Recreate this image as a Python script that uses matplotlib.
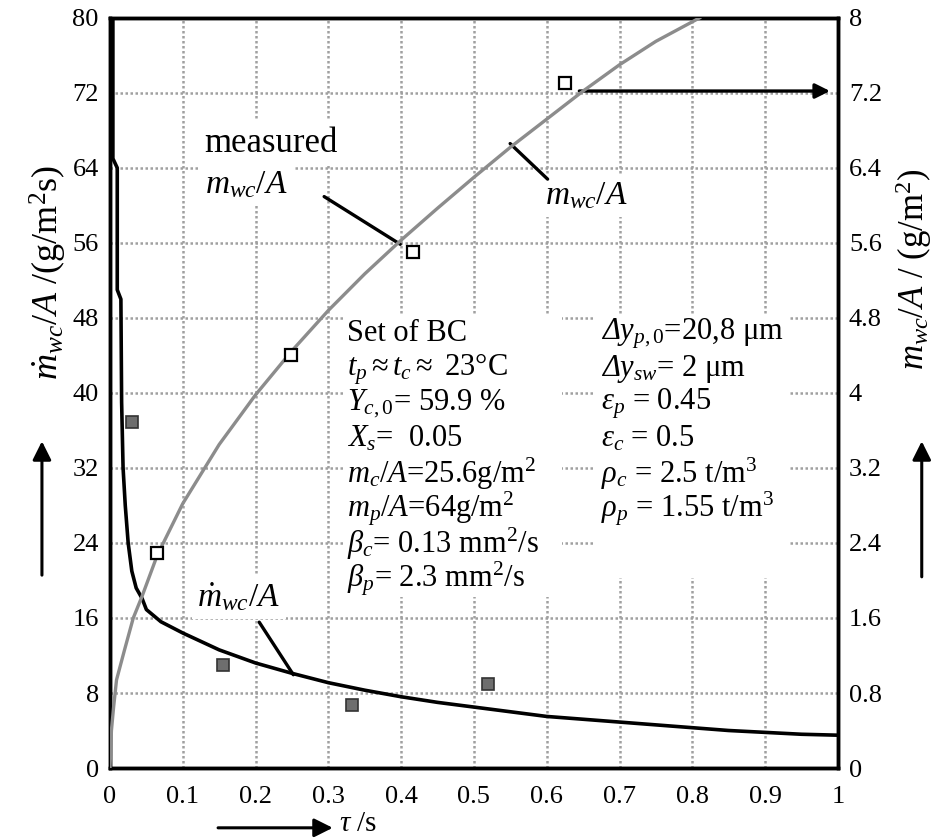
import numpy as np
import matplotlib
matplotlib.use("Agg")
import matplotlib.pyplot as plt
from matplotlib.patches import Rectangle

# Step 1: data
# black line: drying rate mdot_wc/A in g/(m^2 s), left axis
tau_rate = [0.004, 0.004, 0.010, 0.010, 0.015, 0.016, 0.018, 0.021, 0.025, 0.030,
            0.036, 0.044, 0.05, 0.07, 0.1, 0.15, 0.2, 0.25, 0.3, 0.35, 0.4, 0.45,
            0.5, 0.55, 0.6, 0.65, 0.7, 0.75, 0.8, 0.85, 0.9, 0.95, 1.0]
rate = [80, 65, 64, 51, 50, 39, 32, 28, 24, 21,
        19.2, 18.1, 16.9, 15.6, 14.4, 12.6, 11.2, 10.1, 9.1, 8.3, 7.6, 7.0,
        6.5, 6.0, 5.5, 5.2, 4.9, 4.6, 4.3, 4.0, 3.8, 3.6, 3.5]

# gray line: evaporated water m_wc/A in g/m^2, right axis
tau_mass = [0, 0.002, 0.005, 0.009, 0.02, 0.032, 0.044, 0.065, 0.1, 0.15, 0.2,
            0.25, 0.3, 0.35, 0.4, 0.45, 0.5, 0.55, 0.6, 0.65, 0.7, 0.75, 0.81]
mass = [0, 0.40, 0.65, 0.94, 1.26, 1.60, 1.83, 2.27, 2.82, 3.45, 3.98,
        4.45, 4.88, 5.27, 5.63, 5.97, 6.30, 6.62, 6.92, 7.22, 7.50, 7.75, 8.0]

# measured points
tau_meas_mass = [0.065, 0.249, 0.416, 0.625]
meas_mass = [2.29, 4.40, 5.50, 7.31]
tau_meas_rate = [0.030, 0.155, 0.332, 0.52]
meas_rate = [36.9, 11.0, 6.7, 9.0]

x_ticks = [0, 0.1, 0.2, 0.3, 0.4, 0.5, 0.6, 0.7, 0.8, 0.9, 1.0]
x_labels = ["0", "0.1", "0.2", "0.3", "0.4", "0.5", "0.6", "0.7", "0.8", "0.9", "1"]
left_ticks = [0, 8, 16, 24, 32, 40, 48, 56, 64, 72, 80]
right_ticks = [0, 0.8, 1.6, 2.4, 3.2, 4, 4.8, 5.6, 6.4, 7.2, 8]
right_labels = ["0", "0.8", "1.6", "2.4", "3.2", "4", "4.8", "5.6", "6.4", "7.2", "8"]

# "5" and "9" are split in two groups, mathtext kerning overlaps them otherwise
left_block = ["Set of BC",
              r"$t_p \approx t_c \approx$ 23°C",
              r"$Y_{c,0}$= $\mathrm{5}\mathrm{9.9}$ %",
              r"$X_s$=  0.05",
              r"$m_c/A$=25.6g/m$^2$",
              r"$m_p/A$=64g/m$^2$",
              r"$\beta_c$= 0.13 mm$^2$/s",
              r"$\beta_p$= 2.3 mm$^2$/s"]
# \mathsf is mapped to the italic face to get a slanted Delta
right_block = [r"$\mathsf{\Delta}y_{p,0}$=20,8 μm",
               r"$\mathsf{\Delta}y_{sw}$= 2 μm",
               r"$\varepsilon_p$ = 0.45",
               r"$\varepsilon_c$ = 0.5",
               r"$\rho_c$ = 2.5 t/m$^3$",
               r"$\rho_p$ = 1.55 t/m$^3$"]

# Step 2: fonts (Times-like)
plt.rcParams['font.family'] = ['Liberation Serif', 'DejaVu Serif']
plt.rcParams['mathtext.fontset'] = 'custom'
plt.rcParams['mathtext.rm'] = 'Liberation Serif'
plt.rcParams['mathtext.it'] = 'Liberation Serif:italic'
plt.rcParams['mathtext.sf'] = 'Liberation Serif:italic'
plt.rcParams['mathtext.bf'] = 'Liberation Serif:bold'

# Step 3: axes
fig = plt.figure(figsize=(9.32, 8.4), dpi=100)
ax = fig.add_axes([0.118, 0.0857, 0.781, 0.893])
ax2 = ax.twinx()

ax.set_xlim(0, 1)
ax.set_ylim(0, 80)
ax2.set_ylim(0, 8)
ax.set_xticks(x_ticks)
ax.set_xticklabels(x_labels)
ax.set_yticks(left_ticks)
ax2.set_yticks(right_ticks)
ax2.set_yticklabels(right_labels)

ax.tick_params(axis='x', length=0, labelsize=19, pad=13)
ax.tick_params(axis='y', length=0, labelsize=19, pad=8)
ax2.tick_params(axis='y', length=0, labelsize=19, pad=8)

for a in (ax, ax2):
    for s in a.spines.values():
        s.set_linewidth(2.5)
        s.set_color('black')

ax.set_axisbelow(True)
ax.grid(True, color='#a0a0a0', linestyle=(0, (1, 1)), linewidth=1.8)

# white boxes behind the parameter blocks
ax.add_patch(Rectangle((0.32, 0.228), 0.301, 0.375, transform=ax.transAxes,
                       facecolor='white', edgecolor='none', zorder=1))
ax.add_patch(Rectangle((0.663, 0.253), 0.268, 0.35, transform=ax.transAxes,
                       facecolor='white', edgecolor='none', zorder=1))

# Step 4: curves and measured points
ax.plot(tau_rate, rate, color='black', linewidth=2.6, zorder=4)
ax.plot(tau_meas_rate, meas_rate, linestyle='none', marker='s', markersize=8,
        markerfacecolor='#6e6e6e', markeredgecolor='#333333', markeredgewidth=1.2, zorder=5)
ax2.plot(tau_mass, mass, color='#8c8c8c', linewidth=2.4, zorder=4)
ax2.plot(tau_meas_mass, meas_mass, linestyle='none', marker='s', markersize=8,
         markerfacecolor='white', markeredgecolor='black', markeredgewidth=1.6, zorder=5)

# Step 5: annotations
box = dict(facecolor='white', edgecolor='none', pad=4)
ax.text(0.130, 66.6, "measured", fontsize=25, ha='left', va='center', bbox=box, zorder=3)
ax.text(0.130, 62.2, r"$m_{wc}/A$", fontsize=24, ha='left', va='center', bbox=box, zorder=3)
ax.annotate("", xy=(0.402, 55.7), xytext=(0.291, 61.1),
            arrowprops=dict(arrowstyle='-', color='black', linewidth=2.4))

ax.text(0.597, 61.0, r"$m_{wc}/A$", fontsize=24, ha='left', va='center', bbox=box, zorder=3)
ax.annotate("", xy=(0.604, 62.6), xytext=(0.547, 66.8),
            arrowprops=dict(arrowstyle='-', color='black', linewidth=2.4))

ax.text(0.120, 18.3, r"$\dot{m}_{wc}/A$", fontsize=24, ha='left', va='center', bbox=box, zorder=3)
ax.annotate("", xy=(0.254, 9.7), xytext=(0.203, 15.8),
            arrowprops=dict(arrowstyle='-', color='black', linewidth=2.4))

ax.annotate("", xy=(0.993, 72.2), xytext=(0.641, 72.2),
            arrowprops=dict(arrowstyle='-|>', color='black', linewidth=2.4,
                            mutation_scale=22))

# parameter blocks
y0 = 46.3
dy = 3.73
for i, line in enumerate(left_block):
    ax.text(0.325, y0 - i * dy, line, fontsize=22, ha='left', va='center', zorder=3)
for i, line in enumerate(right_block):
    ax.text(0.675, y0 - i * dy, line, fontsize=22, ha='left', va='center', zorder=3)

# Step 6: axis labels with arrows
fig.text(0.052, 0.675, r"$\dot{m}_{wc}/A$ /(g/m$^2$s)", rotation=90,
         ha='center', va='center', fontsize=26)
ax.annotate("", xy=(0.045, 0.478), xytext=(0.045, 0.312), xycoords='figure fraction',
            textcoords='figure fraction', annotation_clip=False,
            arrowprops=dict(arrowstyle='-|>', color='black', linewidth=2.2, mutation_scale=28))

fig.text(0.980, 0.68, r"$m_{wc}/A$ / (g/m$^2$)", rotation=90,
         ha='center', va='center', fontsize=25)
ax.annotate("", xy=(0.989, 0.478), xytext=(0.989, 0.31), xycoords='figure fraction',
            textcoords='figure fraction', annotation_clip=False,
            arrowprops=dict(arrowstyle='-|>', color='black', linewidth=2.2, mutation_scale=28))

ax.annotate("", xy=(0.36, 0.0145), xytext=(0.231, 0.0145), xycoords='figure fraction',
            textcoords='figure fraction', annotation_clip=False,
            arrowprops=dict(arrowstyle='-|>', color='black', linewidth=2.2, mutation_scale=28))
fig.text(0.364, 0.019, r"$\tau$ /s", ha='left', va='center', fontsize=21)

fig.savefig("out.png", dpi=100)
